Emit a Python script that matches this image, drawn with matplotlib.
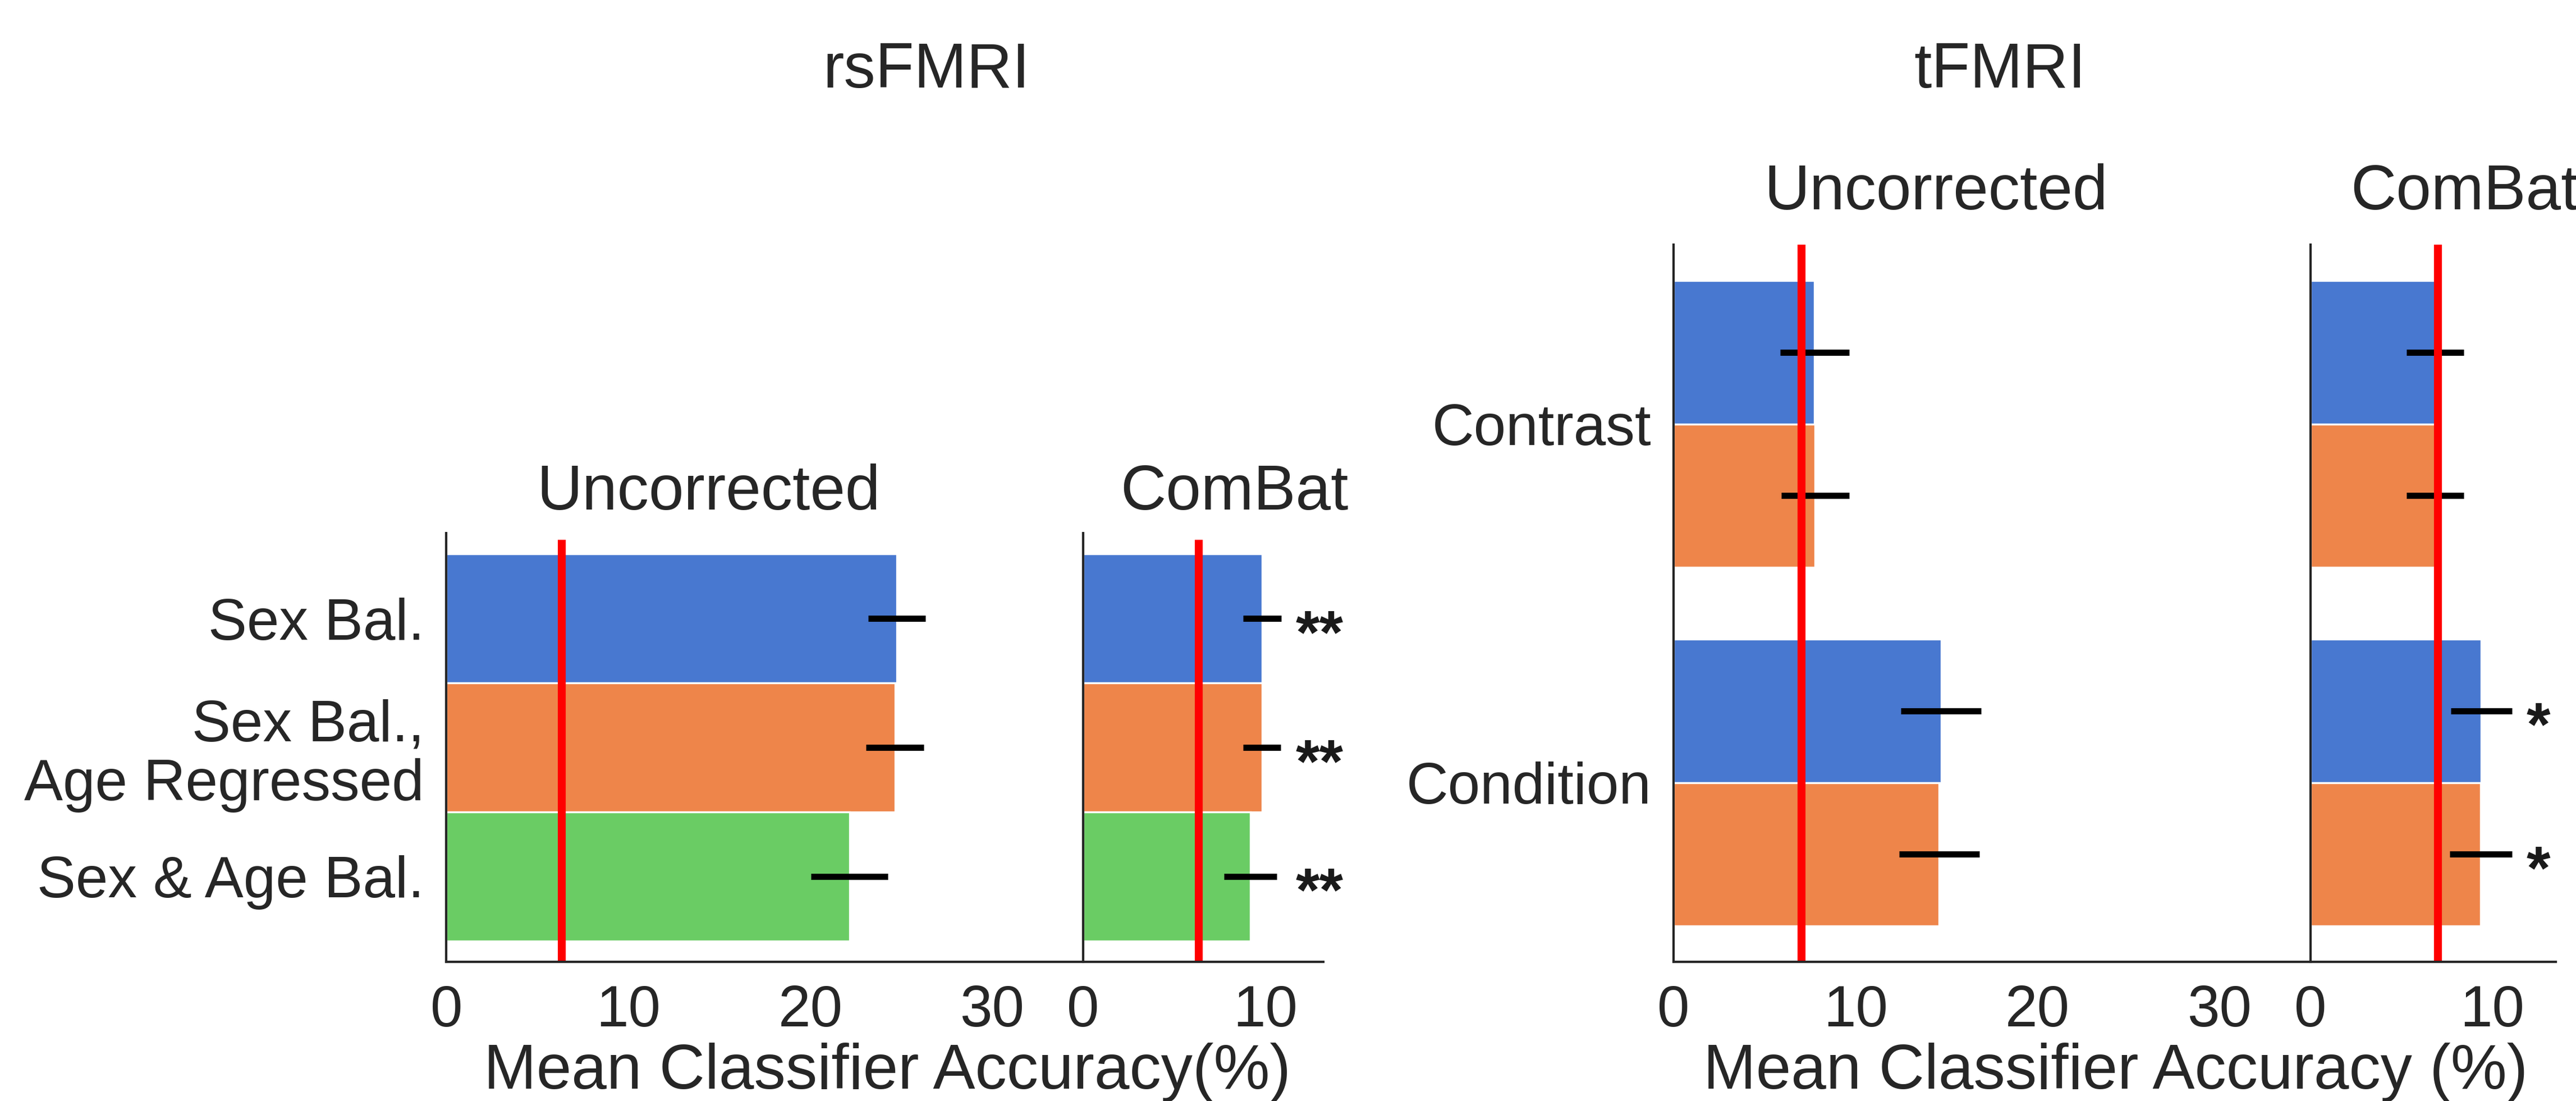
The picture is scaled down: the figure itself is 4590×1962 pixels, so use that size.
import matplotlib
matplotlib.use('Agg')
import matplotlib.pyplot as plt

plt.rcParams['font.family'] = ['Liberation Sans', 'DejaVu Sans']
plt.rcParams['text.color'] = '.15'
plt.rcParams['axes.edgecolor'] = '.15'
plt.rcParams['xtick.color'] = '.15'
plt.rcParams['ytick.color'] = '.15'

# colours (seaborn "muted")
blue = '#4878d0'
orange = '#ee854a'
green = '#6acc64'

# rsFMRI data
rs_labels = ['Sex Bal.', 'Sex Bal.,\nAge Regressed', 'Sex & Age Bal.']
rs_uncorr = [24.75, 24.65, 22.15]
rs_uncorr_err = [1.57, 1.59, 2.12]
rs_combat = [9.83, 9.83, 9.2]
rs_combat_err = [1.05, 1.03, 1.45]
rs_stars = ['**', '**', '**']
rs_chance = 6.35

# tFMRI data (two hue groups per category)
t_labels = ['Contrast', 'Condition']
t_uncorr_a = [7.75, 14.7]
t_uncorr_a_err = [1.9, 2.21]
t_uncorr_b = [7.78, 14.6]
t_uncorr_b_err = [1.86, 2.21]
t_combat_a = [6.85, 9.4]
t_combat_a_err = [1.57, 1.69]
t_combat_b = [6.85, 9.37]
t_combat_b_err = [1.57, 1.7]
t_stars_a = ['', '*']
t_stars_b = ['', '*']
t_chance = 7.02

fig = plt.figure(figsize=(15.3, 6.54), dpi=300)

W, H = 4590, 1962
px = 32.42  # pixels per % on the x axes
tick_fs = 24.8
fs = 27.0


def make_ax(x0, top, xmax):
    left = x0 / W
    bottom = 1 - 1714 / H
    return fig.add_axes([left, bottom, xmax * px / W, (1714 - top) / H])


def style(ax, xmax, ticks):
    ax.set_xlim(0, xmax)
    ax.set_xticks(ticks)
    for s in ['top', 'right']:
        ax.spines[s].set_visible(False)
    for s in ['left', 'bottom']:
        ax.spines[s].set_linewidth(1.0)
    ax.tick_params(length=0, pad=9.5, labelsize=tick_fs)


def stars(ax, x, ys, marks):
    for y, m in zip(ys, marks):
        if m:
            ax.annotate(m, xy=(x, y), xytext=(0, -14.6), textcoords='offset points',
                        ha='center', va='baseline', fontsize=26.2,
                        fontweight='bold', color='.1', annotation_clip=False)


# ---- rsFMRI ----
rs_pos = [0, 1, 2]
rs_colors = [blue, orange, green]
ax1 = make_ax(795.4, 950, 35)
ax2 = make_ax(795.4 + 35 * px, 950, 13.2)
for ax, vals, errs, xmax, ticks in [(ax1, rs_uncorr, rs_uncorr_err, 35, [0, 10, 20, 30]),
                                    (ax2, rs_combat, rs_combat_err, 13.2, [0, 10])]:
    ax.barh(rs_pos, vals, height=1.0, color=rs_colors, edgecolor='white', linewidth=0.8)
    ax.errorbar(vals, rs_pos, xerr=errs, fmt='none', ecolor='black', elinewidth=2.65, capsize=0)
    ax.axvline(rs_chance, ymin=0, ymax=0.975, color='#ff0000', linewidth=3.4)
    ax.set_ylim(2.663, -0.663)
    style(ax, xmax, ticks)
ax1.set_yticks(rs_pos)
ax1.set_yticklabels(rs_labels, linespacing=1.1)
ax2.set_yticks([])
stars(ax2, 13.0, rs_pos, rs_stars)

# ---- tFMRI ----
t_pos = [0, 1]
pos_a = [p - 0.2 for p in t_pos]
pos_b = [p + 0.2 for p in t_pos]
ax3 = make_ax(2982, 436, 35)
ax4 = make_ax(2982 + 35 * px, 436, 13.5)
for ax, va, ea, vb, eb, xmax, ticks in [
        (ax3, t_uncorr_a, t_uncorr_a_err, t_uncorr_b, t_uncorr_b_err, 35, [0, 10, 20, 30]),
        (ax4, t_combat_a, t_combat_a_err, t_combat_b, t_combat_b_err, 13.5, [0, 10])]:
    ax.barh(pos_a, va, height=0.4, color=blue, edgecolor='white', linewidth=0.8)
    ax.barh(pos_b, vb, height=0.4, color=orange, edgecolor='white', linewidth=0.8)
    ax.errorbar(va, pos_a, xerr=ea, fmt='none', ecolor='black', elinewidth=2.65, capsize=0)
    ax.errorbar(vb, pos_b, xerr=eb, fmt='none', ecolor='black', elinewidth=2.65, capsize=0)
    ax.axvline(t_chance, color='#ff0000', linewidth=3.4)
    ax.set_ylim(1.5, -0.5)
    style(ax, xmax, ticks)
ax3.set_yticks(t_pos)
ax3.set_yticklabels(t_labels)
ax4.set_yticks([])
stars(ax4, 12.54, pos_a, t_stars_a)
stars(ax4, 12.54, pos_b, t_stars_b)

# titles and labels
fig.text(1651 / W, 1 - 156 / H, 'rsFMRI', ha='center', va='baseline', fontsize=fs)
fig.text(3563 / W, 1 - 156 / H, 'tFMRI', ha='center', va='baseline', fontsize=fs)
fig.text(1263 / W, 1 - 908 / H, 'Uncorrected', ha='center', va='baseline', fontsize=fs)
fig.text(2200 / W, 1 - 908 / H, 'ComBat', ha='center', va='baseline', fontsize=fs)
fig.text(3450 / W, 1 - 373 / H, 'Uncorrected', ha='center', va='baseline', fontsize=fs)
fig.text(4188 / W, 1 - 373 / H, 'ComBat', ha='left', va='baseline', fontsize=fs)
fig.text(1581 / W, 1 - 1940 / H, 'Mean Classifier Accuracy(%)', ha='center', va='baseline', fontsize=fs)
fig.text(3770 / W, 1 - 1940 / H, 'Mean Classifier Accuracy (%)', ha='center', va='baseline', fontsize=fs)

fig.savefig('out.png', dpi=300)
